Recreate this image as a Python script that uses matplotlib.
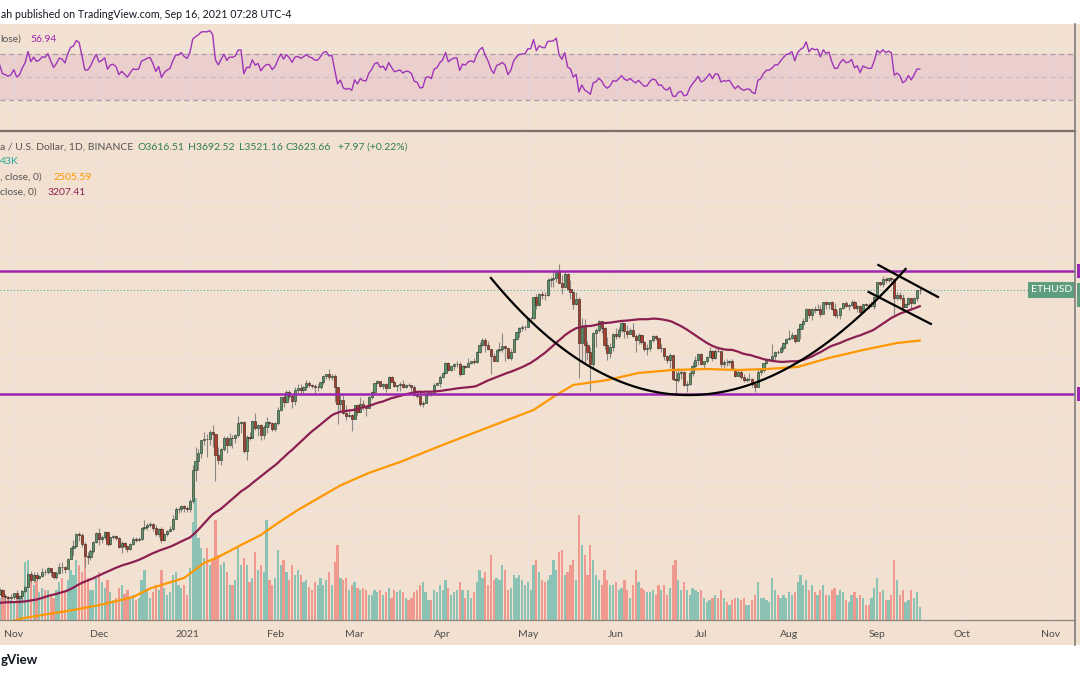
import numpy as np
import pandas as pd
import matplotlib
matplotlib.use("Agg")
import matplotlib.pyplot as plt
import matplotlib.dates as mdates
from matplotlib.patches import Rectangle
from matplotlib.lines import Line2D
from matplotlib.ticker import NullLocator
from matplotlib.transforms import blended_transform_factory

plt.rcParams['font.family'] = ['Lato', 'DejaVu Sans']

# ETH/USD daily candles (Binance)
# closes before the visible window, only used to warm up RSI / MA50
warmup_close = [352, 353, 367, 369, 375, 386, 377, 365, 389, 389, 384, 385, 371, 341, 344, 321, 349,
                352, 354, 357, 354, 360, 359, 353, 346, 346, 352, 353, 341, 341, 350, 365, 370,
                375, 387, 381, 379, 377, 366, 368, 377, 379, 368, 392, 413, 409, 412, 406, 393]

close_oct = [404, 388, 386, 383, 386]
high_oct = [410, 409, 393, 388, 395]
low_oct = [392, 380, 375, 371, 377]

close_nov = [396, 383, 387, 402, 415, 455, 435, 453, 444, 449, 462, 461, 475, 461, 447, 460, 481, 479, 471, 509,
             549, 559, 609, 604, 568, 518, 517, 538, 576, 616]
high_nov = [397, 406, 390, 406, 420, 460, 465, 461, 463, 453, 476, 471, 480, 477, 462, 465, 495, 499, 484, 512,
            555, 582, 615, 620, 615, 575, 534, 545, 580, 620]
low_nov = [381, 380, 370, 372, 396, 413, 428, 430, 432, 440, 446, 454, 456, 450, 440, 439, 455, 458, 460, 471,
           508, 522, 556, 581, 555, 480, 490, 505, 533, 570]

close_dec = [587, 598, 617, 569, 596, 601, 591, 554, 573, 559, 545, 567, 589, 586, 589, 636, 643, 654, 658, 638,
             609, 634, 586, 612, 626, 635, 683, 730, 731, 751, 737]
high_dec = [637, 605, 625, 620, 599, 608, 605, 595, 578, 575, 560, 572, 596, 595, 597, 643, 676, 660, 667, 660,
            652, 638, 643, 614, 630, 647, 702, 745, 742, 754, 752]
low_dec = [562, 573, 590, 561, 564, 588, 585, 550, 530, 545, 535, 543, 564, 577, 579, 582, 627, 629, 643, 625,
           600, 595, 570, 580, 603, 619, 628, 683, 710, 716, 718]

close_jan = [730, 774, 976, 1040, 1100, 1208, 1225, 1224, 1281, 1262, 1090, 1044, 1131, 1229, 1170, 1233, 1230,
             1257, 1377, 1382, 1121, 1235, 1233, 1392, 1322, 1357, 1253, 1331, 1382, 1377, 1314]
high_jan = [750, 787, 1011, 1153, 1136, 1212, 1284, 1264, 1305, 1350, 1265, 1150, 1140, 1248, 1245, 1280, 1255,
            1262, 1440, 1395, 1390, 1257, 1284, 1406, 1474, 1365, 1360, 1356, 1437, 1397, 1382]
low_jan = [717, 714, 768, 900, 975, 1059, 1165, 1074, 1170, 1150, 900, 1020, 1007, 1118, 1100, 1164, 1145,
           1187, 1240, 1272, 1100, 1045, 1212, 1231, 1300, 1252, 1215, 1220, 1280, 1335, 1290]

close_feb = [1369, 1514, 1660, 1594, 1718, 1677, 1614, 1750, 1769, 1744, 1783, 1843, 1814, 1804, 1779, 1781,
             1848, 1937, 1960, 1919, 1935, 1781, 1571, 1626, 1475, 1446, 1459, 1417]
high_feb = [1380, 1540, 1663, 1693, 1740, 1750, 1700, 1780, 1825, 1827, 1798, 1875, 1871, 1830, 1820, 1820,
            1855, 1950, 1968, 2041, 1965, 1960, 1790, 1710, 1680, 1560, 1525, 1470]
low_feb = [1298, 1353, 1498, 1545, 1583, 1634, 1530, 1570, 1705, 1695, 1714, 1751, 1780, 1778, 1700, 1730,
           1760, 1820, 1890, 1881, 1885, 1600, 1360, 1511, 1462, 1400, 1430, 1293]

close_mar = [1565, 1492, 1574, 1541, 1533, 1654, 1723, 1835, 1868, 1800, 1826, 1771, 1923, 1854, 1792, 1806,
             1822, 1781, 1809, 1806, 1783, 1681, 1669, 1582, 1588, 1700, 1714, 1690, 1816, 1840, 1919]
high_mar = [1570, 1568, 1655, 1621, 1546, 1667, 1730, 1841, 1873, 1870, 1835, 1837, 1932, 1937, 1873, 1814,
            1845, 1872, 1825, 1842, 1813, 1813, 1725, 1737, 1616, 1710, 1731, 1723, 1835, 1856, 1945]
low_mar = [1410, 1460, 1488, 1506, 1440, 1526, 1637, 1699, 1820, 1786, 1761, 1725, 1767, 1851, 1780, 1731,
           1732, 1768, 1770, 1800, 1735, 1670, 1650, 1556, 1545, 1585, 1672, 1670, 1685, 1806, 1780]

close_apr = [1970, 2133, 2027, 2079, 2107, 2112, 1964, 2080, 2068, 2134, 2152, 2138, 2299, 2433, 2515, 2422,
             2348, 2234, 2162, 2330, 2360, 2402, 2366, 2213, 2303, 2533, 2661, 2748, 2757, 2773]
high_apr = [1990, 2145, 2145, 2100, 2120, 2150, 2145, 2096, 2100, 2200, 2165, 2200, 2318, 2470, 2545, 2550,
            2495, 2360, 2290, 2350, 2478, 2645, 2405, 2370, 2350, 2540, 2675, 2758, 2797, 2797]
low_apr = [1910, 1965, 2010, 2004, 2020, 2065, 1935, 1960, 2053, 2061, 2110, 2105, 2125, 2282, 2415, 2300,
           2330, 1960, 2150, 2140, 2302, 2312, 2162, 2185, 2168, 2300, 2515, 2577, 2690, 2700]

close_may = [2945, 2949, 3431, 3240, 3522, 3490, 3485, 3902, 3928, 3950, 4168, 3821, 3715, 4078, 3650, 3581,
             3276, 3384, 2459, 2771, 2432, 2300, 2107, 2643, 2706, 2888, 2736, 2424, 2282, 2390, 2633]
high_may = [2950, 2985, 3440, 3530, 3545, 3600, 3580, 3942, 3978, 4197, 4180, 4372, 4030, 4145, 4110, 3900,
            3590, 3560, 3440, 2964, 2923, 2495, 2390, 2660, 2750, 2910, 2890, 2760, 2570, 2468, 2650]
low_may = [2765, 2860, 2940, 3160, 3213, 3400, 3375, 3460, 3708, 3700, 3850, 3800, 3529, 3701, 3620, 3400,
           3150, 3240, 1900, 2160, 2113, 2170, 1730, 2050, 2385, 2660, 2646, 2350, 2166, 2210, 2322]

close_jun = [2585, 2707, 2855, 2688, 2627, 2714, 2595, 2517, 2608, 2473, 2354, 2372, 2509, 2583, 2549, 2366,
             2374, 2232, 2178, 2247, 1889, 1875, 1971, 1991, 1812, 1829, 1978, 2087, 2169, 2276]
high_jun = [2740, 2770, 2890, 2857, 2810, 2740, 2843, 2620, 2650, 2630, 2490, 2450, 2515, 2615, 2610, 2560,
            2435, 2380, 2260, 2280, 2260, 2010, 2045, 2035, 2003, 1860, 1990, 2140, 2240, 2285]
low_jun = [2535, 2551, 2670, 2555, 2560, 2620, 2575, 2300, 2440, 2450, 2320, 2260, 2320, 2480, 2510, 2350,
           2310, 2180, 2130, 2050, 1885, 1700, 1856, 1890, 1800, 1715, 1810, 1940, 2058, 2100]

close_jul = [2114, 2150, 2227, 2325, 2200, 2323, 2316, 2117, 2146, 2137, 2156, 2037, 1940, 1995, 1918, 1878,
             1895, 1897, 1819, 1787, 1995, 2025, 2124, 2189, 2191, 2233, 2299, 2298, 2381, 2461, 2535]
high_jul = [2285, 2165, 2240, 2395, 2330, 2350, 2410, 2318, 2180, 2190, 2170, 2190, 2045, 2017, 2035, 1960,
            1925, 1970, 1900, 1830, 2030, 2040, 2130, 2197, 2200, 2445, 2320, 2345, 2400, 2470, 2550]
low_jul = [2090, 2043, 2133, 2215, 2165, 2190, 2305, 2070, 2046, 2080, 2100, 2020, 1920, 1930, 1895, 1855,
           1857, 1870, 1790, 1718, 1780, 1955, 1995, 2110, 2150, 2170, 2150, 2265, 2282, 2315, 2444]

close_aug = [2557, 2610, 2506, 2722, 2827, 2890, 3157, 3012, 3163, 3142, 3164, 3049, 3322, 3265, 3310, 3149,
             3012, 3018, 3182, 3286, 3225, 3242, 3324, 3174, 3228, 3094, 3272, 3244, 3225, 3228, 3433]
high_aug = [2700, 2665, 2630, 2750, 2840, 2950, 3185, 3185, 3175, 3225, 3275, 3245, 3330, 3333, 3320, 3340,
            3290, 3130, 3185, 3295, 3340, 3260, 3375, 3360, 3250, 3250, 3280, 3290, 3290, 3350, 3470]
low_aug = [2513, 2540, 2455, 2495, 2530, 2720, 2880, 2950, 2920, 3060, 3140, 2985, 3035, 3160, 3150, 3130,
           2980, 2950, 2935, 3165, 3205, 3125, 3220, 3150, 3080, 3065, 3060, 3215, 3150, 3200, 3155]

close_sep = [3834, 3787, 3940, 3887, 3953, 3927, 3429, 3497, 3427, 3211, 3265, 3412, 3285, 3430, 3616.51, 3623.66]
high_sep = [3840, 3840, 4025, 3970, 3980, 3970, 3950, 3580, 3560, 3514, 3290, 3440, 3428, 3445, 3625, 3692.52]
low_sep = [3390, 3720, 3715, 3825, 3850, 3836, 3030, 3375, 3380, 3150, 3200, 3245, 3130, 3270, 3345, 3521.16]

# volume, thousands of ETH
vol_oct = [770, 980, 910, 840, 700]
vol_nov = [630, 875, 770, 1050, 2030, 2100, 1575, 1225, 1400, 980, 1120, 1050, 1050, 875, 770, 1050, 1330, 1470,
           1050, 1400, 1750, 1575, 2100, 1925, 1680, 2380, 1470, 1050, 1050, 1470]
vol_dec = [1680, 1330, 1120, 1400, 980, 700, 770, 1120, 1225, 910, 1050, 770, 875, 700, 770, 1400, 1750, 1050,
           770, 980, 1225, 1050, 1750, 1120, 875, 980, 1575, 1680, 1225, 1120, 1225]
vol_jan = [875, 1820, 3430, 4270, 2870, 2520, 2170, 2520, 1925, 2100, 3500, 2275, 1925, 2030, 1680, 1225, 1225,
           1400, 2520, 1925, 2170, 1925, 1330, 1470, 2380, 1750, 1925, 1680, 3500, 1400, 1225]
vol_feb = [1470, 2450, 1925, 2100, 1680, 1400, 1925, 1575, 1750, 1575, 1330, 1400, 1155, 1050, 1330, 1225, 1470,
           1225, 1400, 1680, 1225, 2030, 2625, 1470, 1400, 1470, 1050, 1225]
vol_mar = [1330, 1120, 1050, 1120, 1050, 875, 875, 1050, 980, 1050, 875, 980, 1120, 770, 1050, 980, 1050, 980,
           770, 700, 770, 980, 1050, 1225, 1330, 980, 700, 700, 1050, 980, 1225]
vol_apr = [1050, 1400, 1120, 875, 980, 1050, 1330, 1050, 770, 1050, 770, 980, 1330, 1750, 1470, 1680, 1225, 2275,
           1400, 1470, 1400, 1925, 1750, 1050, 1120, 1575, 1470, 1575, 1400, 1225]
vol_may = [1330, 1050, 1925, 2100, 1680, 1400, 1330, 1400, 1575, 2100, 1750, 2380, 2450, 1575, 1680, 1925, 2100,
           1400, 3675, 2625, 2275, 1575, 2625, 2100, 1575, 1400, 1225, 1750, 1400, 1225, 1225]
vol_jun = [1330, 1050, 1120, 1400, 1050, 770, 1225, 1750, 1330, 1120, 1050, 980, 980, 1050, 875, 1225, 1050, 1225,
           875, 1120, 1925, 2100, 1400, 1050, 1330, 1050, 875, 1120, 1050, 980]
vol_jul = [1050, 770, 630, 700, 770, 875, 770, 1050, 770, 630, 525, 700, 770, 770, 700, 770, 525, 525, 700, 875,
           1330, 770, 770, 700, 630, 1470, 1050, 875, 770, 875, 770]
vol_aug = [980, 875, 980, 1330, 1575, 1225, 1400, 1050, 1225, 980, 875, 1050, 1225, 875, 875, 1050, 1120, 875,
           1050, 980, 700, 630, 875, 980, 770, 875, 770, 525, 525, 770, 1120]
vol_sep = [1470, 980, 1050, 700, 700, 875, 2100, 1400, 875, 1050, 630, 700, 1050, 770, 980, 443]

# 200-day MA (its history starts far left of the window)
ma200_dates = ['2020-10-27', '2020-11-05', '2020-11-20', '2020-12-01', '2020-12-13', '2020-12-19', '2020-12-31',
               '2021-01-07', '2021-01-12', '2021-01-20', '2021-01-27', '2021-02-02', '2021-02-09', '2021-02-17',
               '2021-02-24', '2021-03-06', '2021-03-17', '2021-04-01', '2021-04-21', '2021-05-03',
               '2021-05-11', '2021-05-17', '2021-05-29', '2021-06-09', '2021-06-21', '2021-07-03', '2021-07-14',
               '2021-07-24', '2021-08-04', '2021-08-15', '2021-08-27', '2021-09-08', '2021-09-16']
ma200_vals = [316, 331, 348, 363, 385, 410, 443, 494, 516, 563, 606, 661, 727, 800, 870, 953, 1032, 1169,
              1372, 1509, 1684, 1811, 1878, 1977, 2021, 2035, 2021, 2035, 2066, 2206, 2338, 2461, 2505.59]

# drawings on the chart
levels = [4165, 1700]
arc_dates = ['2021-04-18', '2021-06-28', '2021-09-11']     # start, bottom, end
arc_prices = [3955, 1683, 4224]
wedge_upper = (['2021-09-01 10:00', '2021-09-22 10:00'], [4349, 3443])
wedge_lower = (['2021-08-29 00:00', '2021-09-19 22:00'], [3571, 2828])
grid_prices = [460, 600, 720, 900, 1100, 1400, 1800, 2200, 2800, 3600, 4600, 5800, 7000, 9000, 11000]
month_labels = ['Nov', 'Dec', '2021', 'Feb', 'Mar', 'Apr', 'May', 'Jun', 'Jul', 'Aug', 'Sep', 'Oct', 'Nov']

close = np.array(close_oct + close_nov + close_dec + close_jan + close_feb + close_mar + close_apr
                 + close_may + close_jun + close_jul + close_aug + close_sep, dtype=float)
high = np.array(high_oct + high_nov + high_dec + high_jan + high_feb + high_mar + high_apr
                + high_may + high_jun + high_jul + high_aug + high_sep, dtype=float)
low = np.array(low_oct + low_nov + low_dec + low_jan + low_feb + low_mar + low_apr
               + low_may + low_jun + low_jul + low_aug + low_sep, dtype=float)
volume = np.array(vol_oct + vol_nov + vol_dec + vol_jan + vol_feb + vol_mar + vol_apr
                  + vol_may + vol_jun + vol_jul + vol_aug + vol_sep, dtype=float)
dates = pd.date_range('2020-10-27', '2021-09-16', freq='D')
assert len(close) == len(high) == len(low) == len(volume) == len(dates)

n = len(close)
full = pd.Series(warmup_close + list(close), dtype=float)
opn = full.shift(1).to_numpy()[-n:]
ma50 = full.rolling(50).mean().to_numpy()[-n:]
delta = full.diff()
avg_up = delta.clip(lower=0).ewm(alpha=1 / 14, adjust=False).mean()
avg_dn = (-delta.clip(upper=0)).ewm(alpha=1 / 14, adjust=False).mean()
rsi = (100 - 100 / (1 + avg_up / avg_dn)).to_numpy()[-n:]

x = mdates.date2num(dates)
up = close >= opn

# ---- figure / layout (pixel based) ----
W, H = 1080, 675
BG = '#f2e0d0'
GRID = '#ece6df'
PURPLE = '#9c27b0'
MAROON = '#8c1f52'
ORANGE = '#ff9800'
PRICE_GREEN = '#5e9e7e'


def fx(px):
    return px / W


def fy(py):
    return 1 - py / H


fig = plt.figure(figsize=(10.8, 6.75), dpi=100, facecolor='white')
fig.add_artist(Rectangle((0, fy(645)), 1, (645 - 24) / H, transform=fig.transFigure,
                         facecolor=BG, edgecolor='none', zorder=-5))

rsi_rect = [0, fy(131), fx(1075), (131 - 24) / H]
main_rect = [0, fy(620), fx(1075), (620 - 131) / H]
ax_rsi = fig.add_axes(rsi_rect, facecolor='none')
ax_bg = fig.add_axes(main_rect, facecolor='none')
ax_vol = fig.add_axes(main_rect, facecolor='none', sharex=ax_bg)
ax = fig.add_axes(main_rect, facecolor='none', sharex=ax_bg)

x_nov = mdates.date2num(pd.Timestamp('2020-11-01'))
xlim = (x_nov - 13.8 / 2.84, x_nov + (1075 - 13.8) / 2.84)
ylim = (325.7, 11568)
for a in (ax_rsi, ax_bg, ax_vol, ax):
    for s in a.spines.values():
        s.set_visible(False)
    a.set_xlim(xlim)
    a.tick_params(length=0, labelleft=False, labelbottom=False)
for a in (ax_bg, ax):
    a.set_yscale('log')
    a.set_ylim(ylim)
for a in (ax_rsi, ax_bg, ax_vol, ax):
    a.yaxis.set_major_locator(NullLocator())
    a.yaxis.set_minor_locator(NullLocator())

months = mdates.date2num(pd.date_range('2020-11-01', '2021-11-01', freq='MS'))
ax.set_xticks(months)
ax.set_xticklabels(month_labels)
ax.tick_params(axis='x', length=0, pad=7, labelbottom=True, labelsize=7.5, labelcolor='#4d4d4d')
ax_rsi.set_xticks([])

# grid
for m in months:
    ax_bg.axvline(m, color=GRID, lw=0.9, zorder=0)
    ax_rsi.axvline(m, color=GRID, lw=0.9, zorder=0)
for p in grid_prices:
    ax_bg.axhline(p, color=GRID, lw=0.9, zorder=0)

# RSI pane
ax_rsi.set_ylim(3, 96)
ax_rsi.axhline(75, color=GRID, lw=0.9, zorder=0)
ax_rsi.axhline(25, color=GRID, lw=0.9, zorder=0)
ax_rsi.axhspan(30, 70, color=PURPLE, alpha=0.09, lw=0)
ax_rsi.axhline(70, color='#a99ca8', lw=0.9, ls=(0, (4, 3)))
ax_rsi.axhline(30, color='#a99ca8', lw=0.9, ls=(0, (4, 3)))
ax_rsi.axhline(50, color='#cdb9c8', lw=0.9, ls=(0, (4, 3)))
ax_rsi.plot(x, rsi, color='#a034b8', lw=1.0)

# volume
ax_vol.set_ylim(0, 17115)
ax_vol.bar(x, volume, width=0.8, color=np.where(up, '#26a69a', '#ef5350'), alpha=0.5, lw=0)

# candles
ax.vlines(x, low, high, color='#8a8784', lw=0.8, zorder=3)
ax.bar(x[up], (close - opn)[up], bottom=opn[up], width=0.75, color='#579566',
       edgecolor='#2e3b31', lw=0.45, zorder=4)
ax.bar(x[~up], (opn - close)[~up], bottom=close[~up], width=0.75, color='#ad3c2d',
       edgecolor='#3a2823', lw=0.45, zorder=4)

# moving averages
ax.plot(mdates.date2num(pd.to_datetime(ma200_dates)), ma200_vals, color=ORANGE, lw=1.6, zorder=5)
ax.plot(x, ma50, color=MAROON, lw=1.6, zorder=5)

# horizontal levels and current price line
for lv in levels:
    ax.axhline(lv, color=PURPLE, lw=1.8, zorder=6)
ax.axhline(close[-1], color='#6aa58a', lw=0.8, ls=(0, (1, 2)), zorder=2)

# cup arc (quadratic curve through start, bottom, end)
ad = mdates.date2num(pd.to_datetime(arc_dates))
al = np.log(arc_prices)
cx = 2 * ad[1] - (ad[0] + ad[2]) / 2
cy = 2 * al[1] - (al[0] + al[2]) / 2
t = np.linspace(0, 1, 200)
bx = (1 - t) ** 2 * ad[0] + 2 * (1 - t) * t * cx + t ** 2 * ad[2]
by = (1 - t) ** 2 * al[0] + 2 * (1 - t) * t * cy + t ** 2 * al[2]
ax.plot(bx, np.exp(by), color='black', lw=1.6, zorder=7)
for d_, p_ in (wedge_upper, wedge_lower):
    ax.plot(mdates.date2num(pd.to_datetime(d_)), p_, color='black', lw=1.6, zorder=7)

# ETHUSD label and the price-scale label stubs at the right edge
tr = blended_transform_factory(ax.transAxes, ax.transData)
ax.text(1072 / 1075, close[-1], 'ETHUSD', transform=tr, ha='right', va='center', fontsize=7.5,
        color='white', bbox=dict(boxstyle='square,pad=0.3', fc=PRICE_GREEN, ec='none'), zorder=9)
half = np.exp(7 * 0.0073)
for lv in levels:
    ax.add_patch(Rectangle((1076.5 / 1075, lv / half), 0.01, lv * half - lv / half, transform=tr,
                           facecolor=PURPLE, edgecolor='none', clip_on=False))
ax.add_patch(Rectangle((1076.5 / 1075, close[-1] / half ** 2.5), 0.01, close[-1] * half - close[-1] / half ** 2.5,
                       transform=tr, facecolor=PRICE_GREEN, edgecolor='none', clip_on=False))

# pane borders
fig.add_artist(Line2D([0, fx(1075)], [fy(131), fy(131)], transform=fig.transFigure, color='#7d726b', lw=1.6))
fig.add_artist(Line2D([fx(1075), fx(1075)], [fy(24), fy(645)], transform=fig.transFigure, color='#7d7d7d', lw=1.2))
fig.add_artist(Line2D([0, fx(1075)], [fy(620), fy(620)], transform=fig.transFigure, color='#8c847d', lw=0.9))

# texts
fig.text(fx(1), fy(14), 'ah published on TradingView.com, Sep 16, 2021 07:28 UTC-4', fontsize=7.7,
         color='#131722', va='center', ha='left')
fig.text(fx(1), fy(660), 'gView', fontsize=9.5, fontweight='bold', color='#131722', va='center')
fig.text(fx(0), fy(39), 'lose)', fontsize=7.5, color='#555555', va='center')
fig.text(fx(30), fy(39), '56.94', fontsize=7.5, color=PURPLE, va='center')

GREEN_TXT = '#2f7d55'
fig.text(fx(0), fy(147), 'a / U.S. Dollar, 1D, BINANCE', fontsize=7.5, color='#555555', va='center')
for px_, s_ in ((137, 'O3616.51'), (188, 'H3692.52'), (239, 'L3521.16'), (286, 'C3623.66'),
                (338, '+7.97 (+0.22%)')):
    fig.text(fx(px_), fy(147), s_, fontsize=7.5, color=GREEN_TXT, va='center')
fig.text(fx(0), fy(162), '43K', fontsize=7.5, color='#26a69a', va='center')
fig.text(fx(0), fy(177), ', close, 0)', fontsize=7.5, color='#555555', va='center')
fig.text(fx(53), fy(177), '2505.59', fontsize=7.5, color=ORANGE, va='center')
fig.text(fx(0), fy(192), 'close, 0)', fontsize=7.5, color='#555555', va='center')
fig.text(fx(48), fy(192), '3207.41', fontsize=7.5, color=MAROON, va='center')

fig.savefig('out.png', dpi=100, facecolor='white')
